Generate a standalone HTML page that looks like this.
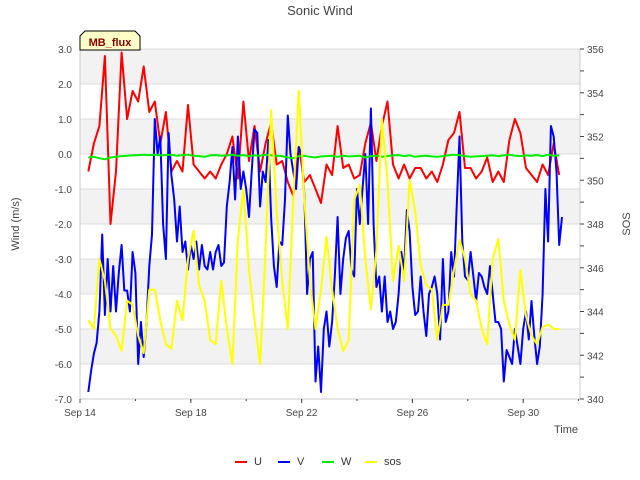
<!DOCTYPE html>
<html><head><meta charset="utf-8"><style>
html,body{margin:0;padding:0;background:#fff;}
svg{display:block;font-family:"Liberation Sans","DejaVu Sans",sans-serif;}
</style></head><body>
<svg id="chart" width="640" height="480" viewBox="0 0 640 480">
<text x="320" y="15" text-anchor="middle" font-size="13" fill="#444">Sonic Wind</text>
<g id="bands"></g>
<g id="grid"></g>
<g id="series"></g>
<g id="axes"></g>
<text x="19" y="224" transform="rotate(-90 19 224)" text-anchor="middle" font-size="11" fill="#444">Wind (m/s)</text>
<text x="630" y="224" transform="rotate(-90 630 224)" text-anchor="middle" font-size="11" fill="#444">SOS</text>
<text x="578" y="433" text-anchor="end" font-size="11" fill="#444">Time</text>
<g>
<path d="M80,50 L80,36 L85,31 L135,31 L140,36 L140,50 Z" fill="#ffffc8" stroke="#000" stroke-width="1"/>
<text x="110" y="46" text-anchor="middle" font-size="11" font-weight="bold" fill="#8b0000">MB_flux</text>
</g>
<g id="legend"></g>
</svg>
<script>
const NS="http://www.w3.org/2000/svg";
const tStart=0.3, stepU=0.2, stepV=0.1;
const dateLabels=["Sep 14","Sep 18","Sep 22","Sep 26","Sep 30"];
const dateDays=[0,4,8,12,16];
const leftTicks=[3,2,1,0,-1,-2,-3,-4,-5,-6,-7];
const rightTicks=[356,354,352,350,348,346,344,342,340];
const U=[-0.5,0.3,0.8,2.8,-2.0,-0.5,2.9,1.0,1.8,1.5,2.5,1.2,1.5,0.3,1.2,-0.5,-0.2,-0.5,1.4,-0.3,-0.5,-0.7,-0.5,-0.7,-0.3,0.0,0.5,-0.7,1.5,-0.2,0.8,-0.5,0.3,0.9,-0.3,-0.2,-0.8,-1.2,0.2,-0.8,-0.6,-1.0,-1.4,-0.3,-0.6,0.8,-0.4,-0.3,-0.7,-0.6,0.3,0.9,-0.2,0.8,1.5,-0.3,-0.7,-0.3,-0.7,-0.4,-0.4,-0.7,-0.5,-0.8,-0.3,0.4,0.6,1.2,-0.4,-0.4,-0.7,-0.5,-0.1,-0.8,-0.5,-0.8,0.4,1.0,0.6,-0.4,-0.6,-0.8,-0.3,-0.6,0.3,-0.6];
const V=[-6.8,-6.2,-5.7,-5.4,-4.5,-2.3,-4.6,-3.0,-4.5,-3.2,-4.5,-3.4,-2.6,-3.9,-3.9,-4.5,-2.8,-3.4,-6.0,-4.8,-5.8,-4.8,-3.2,-2.3,1.0,0.0,0.5,-2.0,-3.0,0.6,-0.6,-1.3,-2.5,-1.5,-2.8,-2.5,-3.3,-2.6,-3.0,-2.5,-3.3,-2.6,-3.2,-3.3,-2.8,-3.3,-2.8,-2.6,-3.2,-3.1,-1.5,-0.8,0.2,-1.3,0.5,-1.0,-0.5,-1.0,-1.8,-0.5,0.7,0.6,-1.5,-0.5,-0.8,0.4,-1.8,-3.2,-3.8,-2.5,-2.6,-1.3,1.1,0.0,-0.5,-1.0,0.2,0.0,-1.2,-4.0,-3.0,-2.8,-6.5,-5.5,-6.8,-5.0,-4.5,-5.5,-4.8,-3.5,-1.8,-4.0,-3.0,-2.4,-2.2,-3.3,-3.5,-1.0,-2.0,-1.0,0.0,-2.0,1.3,-2.0,-3.8,-3.5,-4.5,-3.5,-4.8,-4.5,-5.0,-4.8,-4.0,-2.8,-3.3,-1.6,-2.2,-3.8,-4.6,-4.5,-3.5,-4.5,-5.2,-4.0,-3.8,-3.5,-4.0,-5.3,-3.0,-4.8,-4.5,-2.8,-3.5,-1.5,0.5,-2.5,-3.5,-3.6,-2.8,-3.5,-4.2,-3.4,-3.5,-3.8,-4.0,-3.2,-4.0,-4.8,-4.8,-5.0,-6.5,-5.6,-5.8,-6.0,-5.0,-5.5,-6.0,-5.0,-4.5,-5.3,-4.2,-5.2,-6.0,-5.5,-4.0,-1.0,-2.5,0.8,0.5,-0.5,-2.6,-1.8];
const W=[-0.1,-0.08,-0.12,-0.15,-0.1,-0.08,-0.06,-0.05,-0.04,-0.03,-0.02,-0.03,-0.02,-0.04,-0.03,-0.02,-0.05,-0.03,-0.02,-0.05,-0.06,-0.08,-0.04,-0.03,-0.05,-0.04,-0.02,-0.05,-0.03,-0.06,-0.04,-0.05,-0.02,-0.04,-0.05,-0.06,-0.1,-0.12,-0.06,-0.05,-0.08,-0.1,-0.07,-0.06,-0.05,-0.08,-0.05,-0.07,-0.06,-0.05,-0.1,-0.06,-0.05,-0.08,-0.06,-0.04,-0.03,-0.06,-0.04,-0.08,-0.06,-0.05,-0.07,-0.08,-0.06,-0.04,-0.02,-0.03,-0.06,-0.08,-0.07,-0.06,-0.05,-0.04,-0.06,-0.04,-0.02,-0.05,-0.06,-0.04,-0.05,-0.03,-0.06,-0.02,-0.05,-0.04];
const SOS=[343.6,343.2,346.4,345.4,343.2,342.9,342.2,344.5,344.3,342.9,342.1,345.0,345.0,343.6,342.5,342.3,344.5,343.6,346.4,347.7,345.2,344.5,342.7,342.5,345.4,343.2,341.6,347.3,349.6,345.9,343.6,341.6,346.8,353.2,348.6,345.4,343.2,349.1,354.1,349.1,345.4,343.2,345.0,347.4,345.0,343.2,342.2,342.7,349.1,349.8,346.4,344.1,346.8,352.8,350.0,345.4,347.0,345.4,350.0,348.6,346.1,345.2,345.0,342.7,344.3,344.3,345.9,347.3,346.4,344.8,344.5,343.2,342.5,346.4,347.3,344.5,343.4,342.7,345.9,343.8,342.9,342.5,343.3,343.4,343.2,343.2];

const X0=80,X1=580,Y0=49,Y1=399;
const xS=d=>X0+d*(X1-X0)/18.05;
const yL=v=>Y0+(3-v)*(Y1-Y0)/10;
const yR=v=>Y0+(356-v)*(Y1-Y0)/16;
function el(tag,attrs,parent){const e=document.createElementNS(NS,tag);for(const k in attrs)e.setAttribute(k,attrs[k]);parent.appendChild(e);return e;}
const bands=document.getElementById('bands'),grid=document.getElementById('grid'),axes=document.getElementById('axes'),series=document.getElementById('series'),legend=document.getElementById('legend');
el('rect',{x:X0,y:Y0,width:X1-X0,height:Y1-Y0,fill:'#fff'},bands);
for(let v=3;v>-7;v-=2){const r=el('rect',{x:X0,y:yL(v),width:X1-X0,height:yL(v-1)-yL(v),fill:'#f2f2f2'},bands);

}
leftTicks.forEach(v=>{const l=el('line',{x1:X0,x2:X1,y1:yL(v),y2:yL(v),stroke:'#dcdcdc','stroke-width':1},grid);


const t=el('text',{x:72,y:yL(v)+4,'text-anchor':'end','font-size':10,fill:'#444'},axes);t.textContent=v.toFixed(1);

});
el('line',{x1:X0,x2:X0,y1:Y0,y2:Y1,stroke:'#ccc'},grid);
el('line',{x1:X1,x2:X1,y1:Y0,y2:Y1,stroke:'#ccc'},grid);
el('line',{x1:X0,x2:X1,y1:Y1,y2:Y1,stroke:'#ccc'},grid);
for(let v=340;v<=356;v++){el('line',{x1:X1,x2:X1+4,y1:yR(v),y2:yR(v),stroke:'#444'},axes);}
rightTicks.forEach(v=>{const t=el('text',{x:587,y:yR(v)+4,'font-size':10,fill:'#444'},axes);t.textContent=v;

});
dateLabels.forEach((s,i)=>{const x=xS(dateDays[i]);el('line',{x1:x,x2:x,y1:Y1,y2:Y1+4,stroke:'#444'},axes);
const t=el('text',{x:x,y:416,'text-anchor':'middle','font-size':10,fill:'#444'},axes);t.textContent=s;

});
for(let d=0;d<=18;d+=2){el('line',{x1:xS(d),x2:xS(d),y1:Y1,y2:Y1+2,stroke:'#444'},axes);}
function line(vals,step,yf,color,name){const p=vals.map((v,i)=>(i?'L':'M')+xS(tStart+i*step).toFixed(1)+','+yf(v).toFixed(1)).join('');
const e=el('path',{d:p,fill:'none',stroke:color,'stroke-width':2,'stroke-linejoin':'round'},series);

}
line(U,stepU,yL,'#ff0000','series-u-line');
line(V,stepV,yL,'#0000ff','series-v-line');
line(W,stepU,yL,'#00ee00','series-w-line');
line(SOS,stepU,yR,'#ffff00','series-sos-line');
const leg=[['U','#ff0000',235],['V','#0000ff',278],['W','#00ee00',322],['sos','#ffff00',365]];
leg.forEach(([n,c,x])=>{const g=el('g',{},legend);


el('line',{x1:x,x2:x+12,y1:462,y2:462,stroke:c,'stroke-width':2},g);
const t=el('text',{x:x+19,y:465,'font-size':11,fill:'#333'},g);t.textContent=n;});
</script>
</body></html>
